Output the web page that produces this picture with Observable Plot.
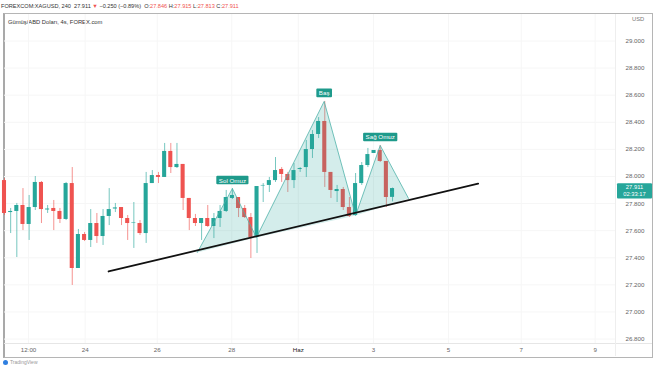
<!DOCTYPE html>
<html><head><meta charset="utf-8">
<script src="https://cdn.jsdelivr.net/npm/d3@7"></script>
<script src="https://cdn.jsdelivr.net/npm/@observablehq/plot@0.6"></script>
<style>
body{margin:0;background:#fff;font-family:"Liberation Sans",Arial,sans-serif;}
#wrap{position:relative;width:654px;height:366px;overflow:hidden;background:#fff;}
#wrap svg{position:absolute;left:0;top:0;}
.t{position:absolute;white-space:nowrap;line-height:1;}
#hdr{left:1px;top:4px;font-size:5.6px;color:#333;}
#hdr .r{color:#ef5350;}
#ttl{left:8px;top:20px;font-size:5.8px;color:#333;}
#usd{left:632px;top:17px;font-size:5.8px;color:#777;}
#box{position:absolute;left:3px;top:13px;width:647px;height:343px;border:1px solid #b5b5b5;border-left:2px solid #a9a9a9;}
#hsep{position:absolute;left:4px;top:343px;width:648px;height:0;border-top:1px solid #e6e6e6;}
#vsep{position:absolute;left:615px;top:14px;width:0;height:342px;border-left:1px solid #eeeeee;}
#foot{left:10px;top:360px;font-size:5px;color:#999;}
#dot{position:absolute;left:3px;top:360px;width:5px;height:5px;border-radius:50%;background:#2f7fe0;}
</style></head>
<body>
<div id="wrap">
  <div id="box"></div><div id="hsep"></div><div id="vsep"></div>
  <div class="t" id="hdr">FOREXCOM:XAGUSD, 240&nbsp; 27.911 <span class="r">▼</span> −0.250 (−0.89%) &nbsp;O:<span class="r">27.846</span> H:<span class="r">27.915</span> L:<span class="r">27.813</span> C:<span class="r">27.911</span></div>
  <div class="t" id="ttl">Gümüş/ABD Doları, 4s, FOREX.com</div>
  <div class="t" id="usd">USD</div>
  <div id="dot"></div><div class="t" id="foot">TradingView</div>
</div>
<script>
// 4-hour candles (bar index order)
const open  = [27.970,27.734,27.742,27.786,27.646,27.771,27.956,27.753,27.764,27.742,27.683,27.948,27.321,27.572,27.528,27.653,27.557,27.705,27.760,27.771,27.690,27.653,27.653,27.579,27.948,28.007,27.993,28.185,28.066,28.089,27.838,27.690,27.653,27.690,27.631,27.690,27.742,27.838,27.845,27.764,27.697,27.550,27.930,27.934,27.970,28.052,28.015,27.970,28.052,28.066,28.199,28.310,28.406,28.030,27.889,27.904,27.771,27.712,27.948,28.081,28.170,28.192,28.111,27.846];
const high  = [27.985,27.764,27.801,27.911,27.860,28.000,27.963,27.786,27.823,27.764,27.956,28.066,27.609,27.587,27.756,27.727,27.756,27.911,27.801,27.771,27.712,27.808,27.675,28.030,28.044,28.030,28.244,28.244,28.244,28.089,27.838,27.720,27.690,27.786,27.727,27.786,27.897,27.911,27.845,27.786,27.727,27.926,27.948,27.993,28.140,28.066,28.030,28.096,28.066,28.266,28.339,28.435,28.554,28.030,27.934,27.919,27.845,28.022,28.103,28.207,28.192,28.229,28.111,27.915];
const low   = [27.712,27.579,27.402,27.601,27.528,27.749,27.653,27.727,27.601,27.653,27.675,27.196,27.321,27.520,27.476,27.506,27.491,27.638,27.734,27.638,27.528,27.469,27.565,27.506,27.948,27.948,27.993,28.022,28.059,27.749,27.601,27.631,27.528,27.624,27.542,27.624,27.734,27.830,27.697,27.690,27.395,27.432,27.808,27.882,27.956,27.956,27.882,27.911,28.030,27.993,28.133,28.280,27.919,27.838,27.808,27.749,27.697,27.712,27.934,28.066,28.170,28.103,27.771,27.813];
const close = [27.727,27.742,27.786,27.646,27.771,27.956,27.756,27.760,27.742,27.683,27.948,27.321,27.572,27.528,27.653,27.557,27.705,27.756,27.768,27.690,27.653,27.657,27.579,27.948,28.007,27.993,28.185,28.066,28.089,27.838,27.690,27.653,27.690,27.631,27.690,27.742,27.845,27.860,27.764,27.697,27.550,27.926,27.934,27.970,28.044,28.015,27.970,28.044,28.059,28.199,28.310,28.406,28.030,27.897,27.904,27.771,27.705,27.948,28.081,28.162,28.192,28.111,27.845,27.911];

// axis ticks
const yTicks = [26.8,27.0,27.2,27.4,27.6,27.8,28.0,28.2,28.4,28.6,28.8,29.0];
const xTickPos = [3.9,13.1,24.8,36.9,47.7,59.9,72.1,83.9,95.9];
const xTickLabels = ["12:00","24","26","28","Haz","3","5","7","9"];

// head & shoulders pattern vertices (bar index, price)
const patternIdx   = [31.3,37.0,40.9,51.9,57.0,61.0,65.6];
const patternPrice = [27.439,27.911,27.550,28.554,27.712,28.229,27.838];
const peakLabels = ["Sol Omuz","Baş","Sağ Omuz"];
const peakVertex = [1,3,5];

// neckline / trendline
const trendIdx = [16.9,76.9];
const trendPrice = [27.299,27.948];

const lastPrice = 27.911;
const lastLabel = "27.911\n02:33:17";

const UP = "#26a69a", DOWN = "#ef5350";
const candles = open.map((o,i)=>({i, open:o, high:high[i], low:low[i], close:close[i], up: close[i] >= o}));
const pts = patternIdx.map((x,i)=>({x, y:patternPrice[i]}));
const tris = [];
[[0,1,2],[2,3,4],[4,5,6]].forEach((t,k)=>t.forEach(j=>tris.push({...pts[j], t:k})));
const peaks = peakVertex.map((v,k)=>({...pts[v], label:peakLabels[k]}));
const trend = trendIdx.map((x,i)=>({x, y:trendPrice[i]}));
const xMax = 99.2;

const chart = Plot.plot({
  width:654, height:366,
  marginLeft:4, marginRight:39, marginTop:14, marginBottom:23,
  style:{background:"transparent", fontFamily:"Liberation Sans, Arial, sans-serif"},
  x:{domain:[0,xMax], axis:null},
  y:{domain:[26.7675,29.1956], axis:null},
  marks:[
    Plot.ruleY(yTicks,{stroke:"#f6f6f6"}),
    Plot.ruleX(xTickPos,{stroke:"#f6f6f6"}),
    Plot.ruleX(candles,{x:"i", y1:"low", y2:"high", stroke:d=>d.up?UP:DOWN, strokeWidth:0.9, strokeOpacity:0.7}),
    Plot.rect(candles,{x1:d=>d.i-0.33, x2:d=>d.i+0.33, y1:"open", y2:"close", fill:d=>d.up?UP:DOWN}),
    Plot.line(tris,{x:"x", y:"y", z:"t", fill:"#26a69a", fillOpacity:0.2, stroke:"none"}),
    Plot.line(pts,{x:"x", y:"y", stroke:"#4fb3aa", strokeWidth:0.8}),
    Plot.line(trend,{x:"x", y:"y", stroke:"#111", strokeWidth:1.8}),
    Plot.text(peaks,{x:"x", y:"y", text:"label", dy:-8, fill:"#fff", fontSize:6.2, className:"plabel"}),
    Plot.text(yTicks,{x:xMax, y:d=>d, text:d=>d.toFixed(3), dx:10, textAnchor:"start", fill:"#666", fontSize:6.2}),
    Plot.text(xTickPos,{x:d=>d, frameAnchor:"bottom", dy:8, text:(d,i)=>xTickLabels[i], fill:(d,i)=>xTickLabels[i]==="Haz"?"#222":"#666", fontSize:6.2}),
    Plot.text([lastPrice],{x:xMax, y:d=>d, text:[lastLabel], dx:19, dy:2, fill:"#fff", fontSize:5.8, lineHeight:1.25, className:"llabel"})
  ]
});
document.getElementById("wrap").appendChild(chart);

function boxes(cls, color, padX, padY, minW){
  const nodes = chart.querySelectorAll("." + cls + " text, text." + cls);
  nodes.forEach(t=>{
    const b = t.getBBox();
    const r = document.createElementNS("http://www.w3.org/2000/svg","rect");
    const w = Math.max(b.width+2*padX, minW||0);
    const cx = b.x + b.width/2;
    r.setAttribute("x", cx - w/2); r.setAttribute("y", b.y - padY);
    r.setAttribute("width", w); r.setAttribute("height", b.height + 2*padY);
    r.setAttribute("rx", 1); r.setAttribute("fill", color);
    if (t.getAttribute("transform")) r.setAttribute("transform", t.getAttribute("transform"));
    t.parentNode.insertBefore(r, t);
  });
}
boxes("plabel", "#1e9a8b", 2.5, 0.8);
boxes("llabel", "#26a69a", 2, 1, 35);
</script>
</body></html>
